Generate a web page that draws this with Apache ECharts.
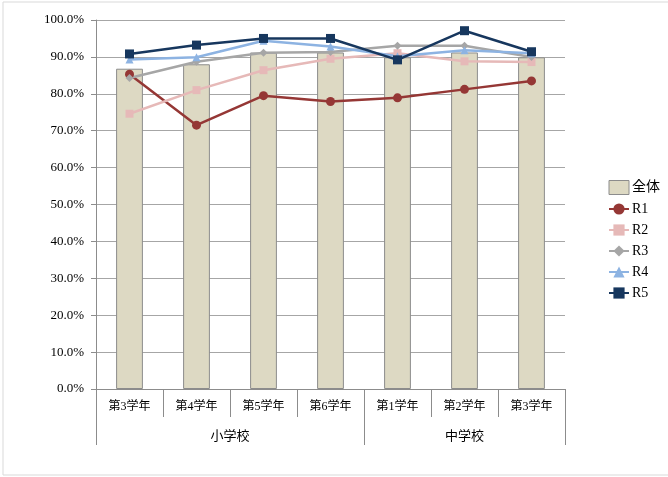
<!DOCTYPE html>
<html>
<head>
<meta charset="utf-8">
<script src="https://cdn.jsdelivr.net/npm/echarts@6/dist/echarts.min.js"></script>
<style>html,body{margin:0;padding:0;background:#fff;}#c{width:668px;height:477px;}</style>
</head>
<body>
<div id="c"></div>
<script>
var grades = ['第3学年','第4学年','第5学年','第6学年','第1学年','第2学年','第3学年'];
var groups = ['小学校','中学校'];
var groupCenters = [2, 5.5];
var groupBounds = [0, 4, 7];
var yTicks = [0,10,20,30,40,50,60,70,80,90,100];

var total = [86.8, 88.0, 91.2, 91.2, 89.9, 91.2, 89.9];
var r1 = [85.3, 71.5, 79.5, 77.9, 78.9, 81.2, 83.5];
var r2 = [74.6, 81.0, 86.4, 89.5, 91.0, 88.8, 88.6];
var r3 = [84.3, 88.7, 91.1, 91.3, 93.0, 93.0, 90.0];
var r4 = [89.3, 89.9, 94.4, 92.8, 90.2, 91.8, 91.0];
var r5 = [90.8, 93.2, 95.0, 95.0, 89.2, 97.1, 91.4];

var FONT = '"Liberation Serif", "DejaVu Serif", "Noto Sans CJK JP", serif';
var chart = echarts.init(document.getElementById('c'), null, {renderer: 'canvas'});

function lineSeries(name, data, color, symbol, size) {
  return {
    name: name, type: 'line', data: data, z: 5,
    symbol: symbol, symbolSize: size, showSymbol: true,
    lineStyle: {color: color, width: 2.5},
    itemStyle: {color: color},
    emphasis: {disabled: true}
  };
}

chart.setOption({
  animation: false,
  backgroundColor: '#ffffff',
  graphic: [{
    type: 'rect', shape: {x: 3, y: 2, width: 700, height: 473},
    style: {fill: 'none', stroke: '#d9d9d9', lineWidth: 1}, silent: true
  }],
  grid: {left: 96, right: 103, top: 20, bottom: 88, containLabel: false},
  legend: {
    orient: 'vertical', left: 608, top: 180, itemGap: 7,
    itemWidth: 20, itemHeight: 14, padding: 0,
    textStyle: {fontFamily: FONT, fontSize: 14, color: '#000', padding: [0, 0, 0, -2]},
    data: [
      {name: '全体', icon: 'rect', itemStyle: {color: '#ddd9c3', borderColor: '#8c8c8c', borderWidth: 1}},
      'R1','R2','R3','R4','R5'
    ]
  },
  xAxis: [{
    type: 'category', data: grades, gridIndex: 0, position: 'bottom',
    boundaryGap: true,
    axisLine: {lineStyle: {color: '#8c8c8c', width: 1}},
    axisTick: {show: true, alignWithLabel: false, length: 28, lineStyle: {color: '#8c8c8c'}},
    axisLabel: {interval: 0, margin: 12, fontFamily: FONT, fontSize: 12, color: '#000'},
    splitLine: {show: false}
  }, {
    type: 'value', gridIndex: 0, position: 'bottom', offset: 28,
    min: 0, max: 7,
    axisLine: {show: false},
    axisTick: {show: true, customValues: groupBounds, length: 28, lineStyle: {color: '#8c8c8c'}},
    axisLabel: {
      customValues: groupCenters, margin: 13, fontFamily: FONT, fontSize: 13, color: '#000',
      formatter: function (v) { var i = groupCenters.indexOf(v); return i >= 0 ? groups[i] : ''; }
    },
    splitLine: {show: false}
  }],
  yAxis: {
    type: 'value', min: 0, max: 100, interval: 10,
    axisLine: {show: true, lineStyle: {color: '#8c8c8c'}},
    axisTick: {show: true, length: 5, lineStyle: {color: '#8c8c8c'}},
    axisLabel: {
      margin: 12, fontFamily: FONT, fontSize: 13, color: '#000',
      formatter: function (v) { return yTicks.indexOf(v) >= 0 ? v.toFixed(1) + '%' : ''; }
    },
    splitLine: {show: true, lineStyle: {color: '#a6a6a6', width: 1}}
  },
  series: [
    {
      name: '全体', type: 'bar', data: total, barWidth: '40%', z: 2,
      itemStyle: {color: '#ddd9c3', borderColor: '#8c8c8c', borderWidth: 1},
      emphasis: {disabled: true}
    },
    lineSeries('R1', r1, '#953735', 'circle', 9),
    lineSeries('R2', r2, '#e6b9b8', 'rect', 8),
    lineSeries('R3', r3, '#a6a6a6', 'diamond', 8),
    lineSeries('R4', r4, '#8db3e2', 'triangle', 8),
    lineSeries('R5', r5, '#17375e', 'rect', 9)
  ]
});
</script>
</body>
</html>
